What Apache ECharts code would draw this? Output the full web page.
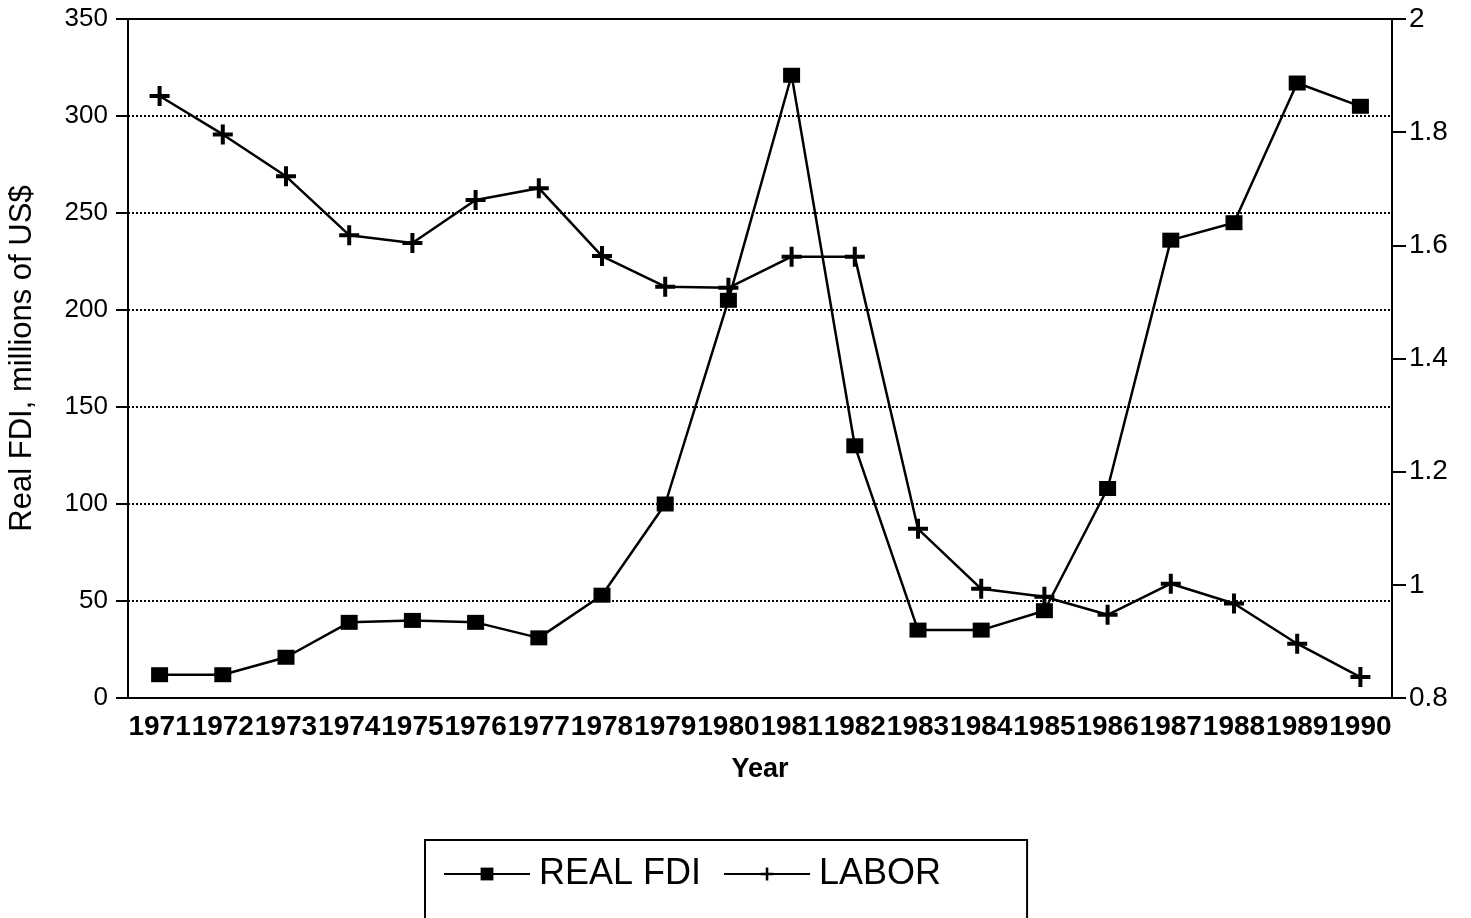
<!DOCTYPE html>
<html>
<head>
<meta charset="utf-8">
<script src="https://cdn.jsdelivr.net/npm/echarts@6/dist/echarts.min.js"></script>
<style>html,body{margin:0;padding:0;background:#fff;}#c{width:1471px;height:918px;}</style>
</head>
<body>
<div id="c"></div>
<script>
const years = ['1971','1972','1973','1974','1975','1976','1977','1978','1979','1980','1981','1982','1983','1984','1985','1986','1987','1988','1989','1990'];
const realFDI = [12, 12, 21, 39, 40, 39, 31, 53, 100, 205, 321, 130, 35, 35, 45, 108, 236, 245, 317, 305];
const labor = [1.864, 1.796, 1.722, 1.618, 1.604, 1.680, 1.701, 1.581, 1.527, 1.525, 1.580, 1.580, 1.099, 0.993, 0.979, 0.947, 1.002, 0.967, 0.896, 0.837];
const leftTicks = {min: 0, max: 350, interval: 50};
const rightTicks = {min: 0.8, max: 2, interval: 0.2};

const plus = 'path://M4,0h2v4h4v2h-4v4h-2v-4h-4v-2h4z';
const font = 'Liberation Sans, Arial, Helvetica, sans-serif';
const chart = echarts.init(document.getElementById('c'));
chart.setOption({
  animation: false,
  backgroundColor: '#fff',
  grid: {left: 128, right: 79, top: 19, bottom: 220, outerBoundsMode: 'none', containLabel: false, show: true, borderColor: '#000', borderWidth: 2, backgroundColor: 'transparent'},
  xAxis: {
    type: 'category', data: years, boundaryGap: true,
    name: 'Year', nameLocation: 'middle', nameGap: 58,
    nameTextStyle: {color: '#000', fontSize: 27, fontWeight: 'bold', fontFamily: font},
    axisLine: {lineStyle: {color: '#000', width: 2}},
    axisTick: {alignWithLabel: true, length: 11, lineStyle: {color: '#000', width: 2}},
    axisLabel: {interval: 0, color: '#000', fontSize: 28, fontWeight: 'bold', fontFamily: font, margin: 15}
  },
  yAxis: [{
    type: 'value', min: leftTicks.min, max: leftTicks.max, interval: leftTicks.interval,
    name: 'Real FDI, millions of US$', nameLocation: 'middle', nameGap: 90, nameRotate: 90,
    nameTextStyle: {color: '#000', fontSize: 31, fontFamily: font},
    axisLine: {show: true, lineStyle: {color: '#000', width: 2}},
    axisTick: {show: true, length: 12, lineStyle: {color: '#000', width: 2}},
    axisLabel: {color: '#000', fontSize: 26, fontFamily: font, margin: 20},
    splitLine: {show: true, lineStyle: {color: '#000', width: 2, type: [2, 2]}}
  }, {
    type: 'value', position: 'right', min: rightTicks.min, max: rightTicks.max, interval: rightTicks.interval,
    axisLine: {show: true, lineStyle: {color: '#000', width: 2}},
    axisTick: {show: true, length: 14, lineStyle: {color: '#000', width: 2}},
    axisLabel: {color: '#000', fontSize: 28, fontFamily: font, margin: 17, formatter: v => String(+v.toFixed(1))},
    splitLine: {show: false}
  }],
  legend: {
    left: 425, top: 840,
    padding: [16, 86, 56, 18],
    borderColor: '#000', borderWidth: 2,
    itemWidth: 86, itemHeight: 16, itemGap: 22,
    textStyle: {color: '#000', fontSize: 36, fontFamily: font, padding: [0, 0, 0, 4]},
    data: ['REAL FDI', 'LABOR']
  },
  series: [{
    name: 'REAL FDI', type: 'line', data: realFDI, yAxisIndex: 0,
    symbol: 'rect', symbolSize: [17, 15],
    lineStyle: {color: '#000', width: 2.5},
    itemStyle: {color: '#000'}
  }, {
    name: 'LABOR', type: 'line', data: labor, yAxisIndex: 1,
    symbol: plus, symbolSize: 20,
    lineStyle: {color: '#000', width: 2.5},
    itemStyle: {color: '#000'}
  }]
});
</script>
</body>
</html>
